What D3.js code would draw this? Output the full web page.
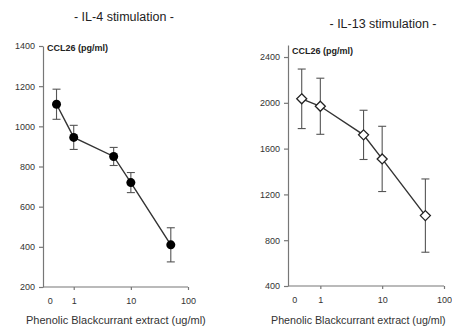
<!DOCTYPE html>
<html>
<head>
<meta charset="utf-8">
<script src="https://cdn.jsdelivr.net/npm/d3@7"></script>
<style>
  body { margin: 0; background: #fff; }
  svg { font-family: "Liberation Sans", Arial, sans-serif; }
</style>
</head>
<body>
<div id="chart"></div>
<script>
// doses of extract (ug/ml); the "0" control is drawn just left of 1
const doses = [0.5, 1, 5, 10, 50];
const il4Mean = [1110, 945, 850, 720, 410];
const il4Err = [75, 60, 45, 50, 85];
const il13Mean = [2035, 1970, 1720, 1510, 1015];
const il13Err = [260, 245, 215, 285, 320];
const xTicks = [0.38, 1, 10, 100];
const xTickLabels = ["0", "1", "10", "100"];
const il4YTicks = [200, 400, 600, 800, 1000, 1200, 1400];
const il13YTicks = [400, 800, 1200, 1600, 2000, 2400];

const width = 452, height = 329;
const svg = d3.select("#chart").append("svg")
    .attr("width", width)
    .attr("height", height);

// panel layout
const panels = [
    { title: "- IL-4 stimulation -", titleX: 124, titleY: 21,
      mean: il4Mean, err: il4Err, yTicks: il4YTicks, yDomain: [200, 1400],
      left: 43, right: 188, top: 46, bottom: 287, xDomain: [0.29, 100],
      filled: true, xLabelX: 26, xLabelSize: 11 },
    { title: "- IL-13 stimulation -", titleX: 383, titleY: 28,
      mean: il13Mean, err: il13Err, yTicks: il13YTicks, yDomain: [400, 2505],
      left: 288, right: 444, top: 45, bottom: 286, xDomain: [0.3, 100],
      filled: false, xLabelX: 271, xLabelSize: 10.7 }
];

panels.forEach(p => {
    const g = svg.append("g");

    g.append("text")
        .attr("x", p.titleX)
        .attr("y", p.titleY)
        .attr("text-anchor", "middle")
        .attr("font-size", "12.5px")
        .attr("fill", "#222")
        .text(p.title);

    const x = d3.scaleLog().domain(p.xDomain).range([p.left, p.right]);
    const y = d3.scaleLinear().domain(p.yDomain).range([p.bottom, p.top]);

    // y axis
    const yAxis = g.append("g")
        .attr("transform", `translate(${p.left},0)`)
        .call(d3.axisLeft(y).tickValues(p.yTicks).tickFormat(d3.format("d"))
            .tickSize(4).tickSizeOuter(0).tickPadding(4));
    yAxis.selectAll("text").attr("font-size", "9px").attr("fill", "#333");

    // x axis
    const xAxis = g.append("g")
        .attr("transform", `translate(0,${p.bottom})`)
        .call(d3.axisBottom(x).tickValues(xTicks)
            .tickFormat((d, i) => xTickLabels[i])
            .tickSize(3).tickSizeOuter(0).tickPadding(8));
    xAxis.selectAll("text").attr("font-size", "9px").attr("fill", "#333");
    xAxis.selectAll(".tick").filter((d, i) => i === 0).select("line").remove();

    g.selectAll(".domain, .tick line").attr("stroke", "#777").attr("stroke-width", 1.2);
    // x axis line starts at the y axis
    xAxis.select(".domain").attr("d", `M${p.left},0H${p.right}`);

    g.append("text")
        .attr("x", p.left + 4)
        .attr("y", p.top + (p.filled ? 5 : 9))
        .attr("font-size", "9px")
        .attr("font-weight", "bold")
        .attr("fill", "#222")
        .text("CCL26 (pg/ml)");

    g.append("text")
        .attr("x", p.xLabelX)
        .attr("y", 324)
        .attr("font-size", p.xLabelSize + "px")
        .attr("fill", "#333")
        .text("Phenolic Blackcurrant extract (ug/ml)");

    const data = doses.map((d, i) => ({ dose: d, mean: p.mean[i], err: p.err[i] }));

    // error bars
    const eb = g.append("g").attr("stroke", "#555").attr("stroke-width", 1.1);
    data.forEach(d => {
        const cx = x(d.dose);
        eb.append("line").attr("x1", cx).attr("x2", cx)
            .attr("y1", y(d.mean + d.err)).attr("y2", y(d.mean - d.err));
        [d.mean + d.err, d.mean - d.err].forEach(v => {
            eb.append("line").attr("x1", cx - 4).attr("x2", cx + 4)
                .attr("y1", y(v)).attr("y2", y(v));
        });
    });

    g.append("path")
        .datum(data)
        .attr("fill", "none")
        .attr("stroke", "#333")
        .attr("stroke-width", 1.4)
        .attr("d", d3.line().x(d => x(d.dose)).y(d => y(d.mean)));

    if (p.filled) {
        g.selectAll("circle.pt")
            .data(data)
            .join("circle")
            .attr("cx", d => x(d.dose))
            .attr("cy", d => y(d.mean))
            .attr("r", 4.5)
            .attr("fill", "#000");
    } else {
        g.selectAll("path.pt")
            .data(data)
            .join("path")
            .attr("class", "pt")
            .attr("transform", d => `translate(${x(d.dose)},${y(d.mean)})`)
            .attr("d", "M0,-5L5,0L0,5L-5,0Z")
            .attr("fill", "#fff")
            .attr("stroke", "#222")
            .attr("stroke-width", 1.3);
    }
});
</script>
</body>
</html>
